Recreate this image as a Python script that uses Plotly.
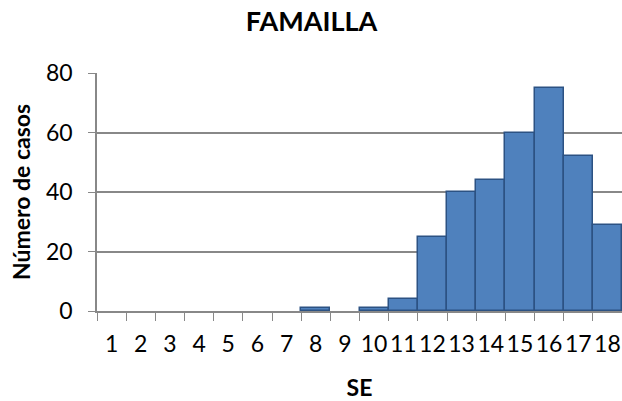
import plotly.graph_objects as go

# semanas epidemiologicas y casos
semanas = [str(i) for i in range(1, 19)]
casos = [0, 0, 0, 0, 0, 0, 0, 1, 0, 1, 4, 25, 40, 44, 60, 75, 52, 29]
y_ticks = [0, 20, 40, 60, 80]

FONT = "Lato"
GRID = "#888888"

# las semanas sin casos no dibujan barra
barras = [c if c > 0 else None for c in casos]

fig = go.Figure()
fig.add_trace(go.Bar(
    x=semanas,
    y=barras,
    marker=dict(color="#4F81BD", line=dict(color="#2C5283", width=1.5)),
))

fig.update_layout(
    width=622,
    height=401,
    margin=dict(l=97, r=0, t=73, b=90),
    paper_bgcolor="white",
    plot_bgcolor="white",
    bargap=0,
    showlegend=False,
    font=dict(family=FONT, color="black", size=23),
    title=dict(
        text="<b>FAMAILLA</b>",
        x=0.501, xanchor="center",
        y=0.946, yanchor="middle",
        font=dict(family=FONT, size=27, color="black"),
    ),
)

fig.update_xaxes(
    type="category",
    tickson="boundaries",
    tickangle=0,
    automargin=False,
    ticks="outside",
    ticklen=8,
    tickcolor=GRID,
    showline=True,
    linecolor=GRID,
    linewidth=1.5,
    showgrid=False,
    tickfont=dict(size=23),
    ticklabelstandoff=12,
    title=dict(text="<b>SE</b>", font=dict(size=23), standoff=25),
)

fig.update_yaxes(
    range=[0, 80],
    tickvals=y_ticks,
    automargin=False,
    ticks="outside",
    ticklen=7,
    tickcolor=GRID,
    showline=True,
    linecolor=GRID,
    linewidth=1.5,
    showgrid=True,
    gridcolor=GRID,
    gridwidth=1.5,
    zeroline=False,
    tickfont=dict(size=23),
    ticklabelstandoff=11,
    title=dict(text="<b>Número de casos</b>", font=dict(size=23), standoff=9),
)

# sin margen en el body para que la figura ocupe la ventana entera
fig.write_html(
    "out.html",
    config={"displayModeBar": False},
    post_script="document.body.style.margin='0';",
)
